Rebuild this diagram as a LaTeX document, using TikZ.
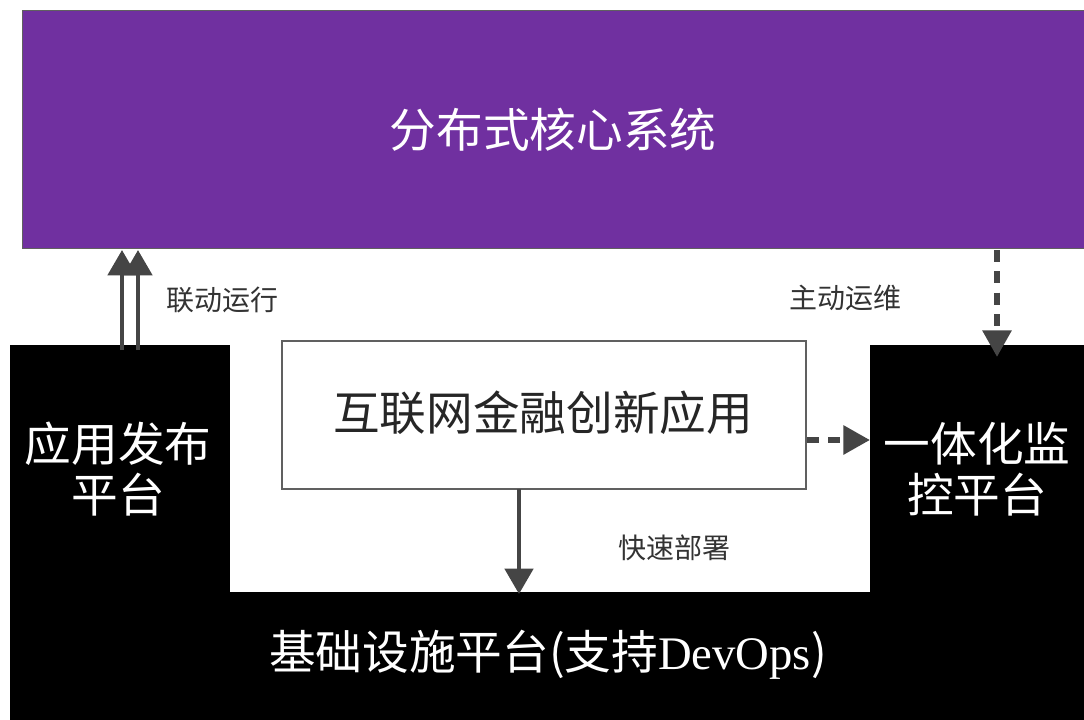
\documentclass[tikz,border=0pt]{standalone}
\usepackage{fontspec}
\setmainfont{Noto Sans CJK SC}
\newfontfamily\cjk{Noto Sans CJK SC}
\newfontfamily\latinserif{Liberation Serif}
\usetikzlibrary{arrows.meta}
\definecolor{corepurple}{HTML}{7030A0}
\definecolor{arrowgrey}{HTML}{454545}
\definecolor{boxline}{HTML}{606060}
\tikzset{
  blackbox/.style={fill=black,draw=none},
  bigtext/.style={font=\cjk\fontsize{35}{42}\selectfont,align=center,inner sep=0pt},
  smalllabel/.style={font=\cjk\fontsize{21}{25}\selectfont,text=black!80,inner sep=0pt},
  solidarrow/.style={draw=arrowgrey,line width=3.5pt,-{Triangle[width=21pt,length=19pt]}},
  dasharrow/.style={draw=arrowgrey,line width=4.5pt,dash pattern=on 9pt off 7pt,-{Triangle[width=21pt,length=20pt]}},
}
\begin{document}
\begin{tikzpicture}[x=0.75pt,y=-0.75pt]
\useasboundingbox (0,0) rectangle (1084,720);
\fill[white] (0,0) rectangle (1084,720);
% top purple box
\node[fill=corepurple,draw=boxline,line width=1pt,minimum width=1062*0.75pt,minimum height=238*0.75pt,inner sep=0pt,anchor=north west] (core) at (22,10) {};
\node[bigtext,text=white] (coretxt) at (553,130) {分布式核心系统};
% left black box
\node[blackbox,minimum width=220*0.75pt,minimum height=247*0.75pt,inner sep=0pt,anchor=north west] (app) at (10,345) {};
\node[bigtext,text=white] (apptxt) at (118,469) {应用发布\\[-4pt]平台};
% right black box
\node[blackbox,minimum width=214*0.75pt,minimum height=247*0.75pt,inner sep=0pt,anchor=north west] (mon) at (870,345) {};
\node[bigtext,text=white] (montxt) at (977,469) {一体化监\\[-4pt]控平台};
% bottom black box
\node[blackbox,minimum width=1074*0.75pt,minimum height=128*0.75pt,inner sep=0pt,anchor=north west] (infra) at (10,592) {};
\node[bigtext,text=white] (infratxt) at (548,655) {基础设施平台(支持{\latinserif DevOps})};
% middle white box
\node[fill=white,draw=boxline,line width=1.5pt,minimum width=524*0.75pt,minimum height=148*0.75pt,inner sep=0pt,anchor=north west] (inet) at (281,340) {};
\node[bigtext,text=black!85] (inettxt) at (543,413) {互联网金融创新应用};
% coordinates
\coordinate (u1s) at (122,350);
\coordinate (u1e) at (122,250);
\coordinate (u2s) at (138,350);
\coordinate (u2e) at (138,250);
\coordinate (ds) at (997,250);
\coordinate (de) at (997,357);
\coordinate (rs) at (807,440);
\coordinate (re) at (870,440);
\coordinate (fs) at (519,489);
\coordinate (fe) at (519,594);
% arrows
\draw[solidarrow] (u1s) -- (u1e);
\draw[solidarrow] (u2s) -- (u2e);
\draw[dasharrow] (ds) -- (de);
\draw[dasharrow] (rs) -- (re);
\draw[solidarrow] (fs) -- (fe);
% labels
\node[smalllabel,anchor=west] (l1) at (166,300) {联动运行};
\node[smalllabel,anchor=west] (l2) at (789,298) {主动运维};
\node[smalllabel,anchor=west] (l3) at (618,548) {快速部署};
\end{tikzpicture}
\end{document}
